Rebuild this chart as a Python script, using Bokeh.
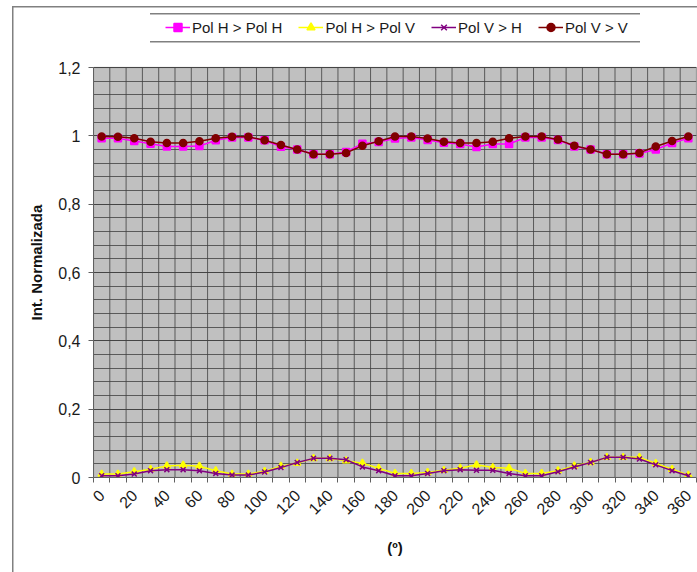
import math
from bokeh.plotting import figure
from bokeh.models import (Range1d, FixedTicker, Legend, LegendItem, ColumnDataSource,
                          BoxAnnotation, Title)
from bokeh.embed import file_html
from bokeh.resources import INLINE

angles = list(range(0, 361, 10))
x_tick_labels = [str(a) for a in range(0, 361, 20)]

pol_hh = [0.993, 0.993, 0.985, 0.977, 0.969, 0.969, 0.970, 0.987, 0.995, 0.995,
          0.987, 0.968, 0.960, 0.946, 0.946, 0.953, 0.977, 0.982, 0.992, 0.995,
          0.988, 0.980, 0.976, 0.967, 0.976, 0.976, 0.995, 0.995, 0.988, 0.969,
          0.960, 0.946, 0.946, 0.948, 0.960, 0.979, 0.993]
pol_hv = [0.010, 0.010, 0.017, 0.024, 0.034, 0.036, 0.033, 0.020, 0.010, 0.010,
          0.018, 0.033, 0.042, 0.056, 0.056, 0.049, 0.042, 0.027, 0.012, 0.012,
          0.015, 0.021, 0.027, 0.037, 0.029, 0.027, 0.012, 0.012, 0.020, 0.034,
          0.044, 0.059, 0.059, 0.059, 0.041, 0.024, 0.007]
pol_vh = [0.005, 0.005, 0.010, 0.020, 0.023, 0.023, 0.020, 0.012, 0.007, 0.007,
          0.016, 0.029, 0.044, 0.056, 0.056, 0.052, 0.031, 0.020, 0.005, 0.005,
          0.012, 0.020, 0.023, 0.021, 0.021, 0.012, 0.005, 0.005, 0.017, 0.031,
          0.044, 0.059, 0.059, 0.054, 0.037, 0.020, 0.005]
pol_vv = [0.998, 0.997, 0.993, 0.983, 0.979, 0.979, 0.984, 0.993, 0.997, 0.997,
          0.987, 0.973, 0.960, 0.946, 0.946, 0.950, 0.971, 0.984, 0.998, 0.998,
          0.992, 0.983, 0.979, 0.979, 0.983, 0.993, 0.998, 0.998, 0.989, 0.971,
          0.960, 0.946, 0.946, 0.950, 0.969, 0.985, 0.998]

y_ticks = [0.0, 0.2, 0.4, 0.6, 0.8, 1.0, 1.2]
y_tick_labels = ["0", "0,2", "0,4", "0,6", "0,8", "1", "1,2"]

series_names = ["Pol H > Pol H", "Pol H > Pol V", "Pol V > H", "Pol V > V"]
x_title = "(º)"
y_title = "Int. Normalizada"

FONT = "Liberation Sans"
W, H = 697, 572
BOTTOM, LEFT, RIGHT = 95, 93, 1
PLOT_TOP_PX = 67           # pixel row of the 1,2 line
frame_h = H - BOTTOM       # frame runs from the top edge down to the x axis
ymax = y_ticks[-1]
y_top = ymax * frame_h / (frame_h - PLOT_TOP_PX)

# decorative rules drawn as CSS backgrounds behind a transparent canvas
g = "linear-gradient(#808080,#808080)"
rules = [("12px 6px", "1.5px 100%"), ("12px 6px", "100% 1.5px"),
         ("150px 13px", "490px 1.5px"), ("150px 41px", "490px 1.5px")]
styles = {
    "background-color": "white",
    "background-image": ", ".join([g] * len(rules)),
    "background-position": ", ".join(r[0] for r in rules),
    "background-size": ", ".join(r[1] for r in rules),
    "background-repeat": "no-repeat",
}

step = angles[1] - angles[0]
xmin, xmax = angles[0] - step / 2, angles[-1] + step / 2
bounds = [a - step / 2 for a in angles] + [xmax]

p = figure(width=W, height=H, output_backend="svg", toolbar_location=None,
           x_range=Range1d(xmin, xmax), y_range=Range1d(0, y_top),
           min_border_left=LEFT, min_border_right=RIGHT,
           min_border_top=0, min_border_bottom=BOTTOM, styles=styles)
p.background_fill_alpha = 0
p.border_fill_alpha = 0
p.outline_line_color = None

# grey plot area
p.add_layout(BoxAnnotation(left=xmin, right=xmax, bottom=0, top=ymax,
                           fill_color="#C0C0C0", fill_alpha=1,
                           line_color="#808080", line_width=1.5, level="image",
                           editable=False))

p.xaxis.ticker = FixedTicker(ticks=[float(t) for t in x_tick_labels], minor_ticks=bounds)
p.yaxis.ticker = FixedTicker(ticks=y_ticks, minor_ticks=[round(k * 0.04, 2) for k in range(31)])
p.yaxis.major_label_overrides = {t: l for t, l in zip(y_ticks, y_tick_labels)}
p.yaxis.bounds = (0, ymax)

GRID = "#404040"
p.xgrid.grid_line_color = None
p.ygrid.grid_line_color = GRID
p.ygrid.grid_line_alpha = 0.8
p.ygrid.minor_grid_line_color = GRID
p.ygrid.minor_grid_line_alpha = 0.8
# vertical grid lines at category boundaries, limited to the plot area
p.segment(x0=bounds, y0=[0] * len(bounds), x1=bounds, y1=[ymax] * len(bounds),
          line_color=GRID, line_alpha=0.8, line_width=1, level="underlay")

for ax in (p.xaxis[0], p.yaxis[0]):
    ax.axis_line_color = "#606060"
    ax.major_label_text_font = FONT
    ax.major_label_text_font_size = "16px"
    ax.major_label_text_color = "#1a1a1a"
    ax.axis_label_text_font = FONT
    ax.axis_label_text_font_size = "15px"
    ax.axis_label_text_font_style = "bold"
    ax.axis_label_text_color = "#111111"

xa = p.xaxis[0]
xa.major_tick_out = 0
xa.major_tick_in = 0
xa.minor_tick_out = 5
xa.minor_tick_in = 0
xa.minor_tick_line_color = "#606060"
xa.major_label_orientation = math.pi / 4
xa.major_label_standoff = 10
xa.axis_label = x_title
xa.axis_label_standoff = 16

ya = p.yaxis[0]
ya.major_tick_out = 5
ya.major_tick_in = 0
ya.major_tick_line_color = "#606060"
ya.minor_tick_out = 0
ya.minor_tick_in = 0
ya.major_label_standoff = 8

# y axis title as a left-side Title so it can be centred on the grey plot area
p.add_layout(Title(text=y_title, align="left", offset=157, standoff=22,
                   text_font=FONT, text_font_size="15px", text_font_style="bold",
                   text_color="#111111"), "left")

src = ColumnDataSource(dict(x=angles, hh=pol_hh, hv=pol_hv, vh=pol_vh, vv=pol_vv))

items = []
specs = [("hh", "#FF00FF", "square", 7),
         ("hv", "#FFFF00", "triangle", 7),
         ("vh", "#800080", "x", 7),
         ("vv", "#800000", "circle", 7)]
for (col, color, marker, size), name in zip(specs, series_names):
    ln = p.line("x", col, source=src, line_color=color, line_width=1.5)
    sc = p.scatter("x", col, source=src, marker=marker, size=size,
                   fill_color=color, line_color=color, line_width=1.5)
    items.append(LegendItem(label=name, renderers=[ln, sc]))

legend = Legend(items=items, orientation="horizontal", location=(161 - LEFT, frame_h - 41),
                label_text_font=FONT, label_text_font_size="15px", label_text_color="#1a1a1a",
                glyph_width=25, glyph_height=20, label_standoff=2, spacing=16,
                padding=4, border_line_alpha=0, background_fill_alpha=0)
p.add_layout(legend, "center")

open("out.html", "w").write(file_html(p, INLINE))
